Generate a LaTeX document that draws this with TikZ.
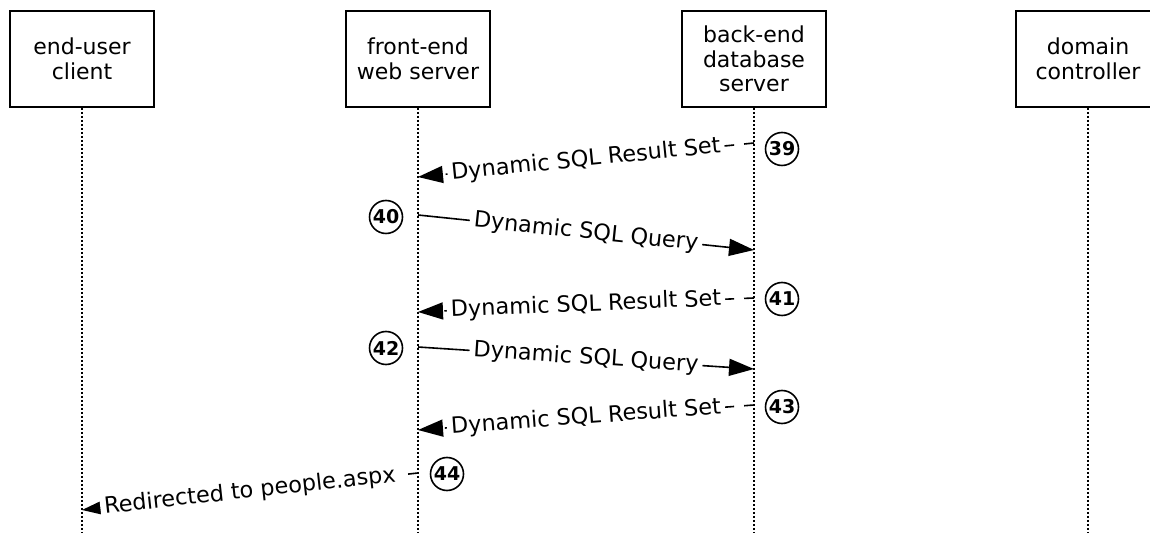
\documentclass[tikz,border=0pt]{standalone}
\usepackage{fontspec}
\setmainfont{DejaVu Sans}
\usetikzlibrary{arrows.meta,positioning}
\newcommand{\ClientX}{82}
\newcommand{\WebX}{418}
\newcommand{\DbX}{754}
\newcommand{\DcX}{1088}
\newcommand{\BoxMid}{59}
\newcommand{\LifeEnd}{533}

\begin{document}
\begin{tikzpicture}[x=0.5pt,y=-0.5pt,
  actor/.style={draw, line width=1pt, minimum width=72pt, minimum height=48pt, align=center, inner sep=0pt, font=\fontsize{11}{12.2}\selectfont},
  lifeline/.style={line width=0.8pt, dash pattern=on 0.8pt off 1.2pt},
  stepnum/.style={circle, draw, line width=0.8pt, minimum size=16.5pt, inner sep=0pt, font=\bfseries\fontsize{9.5}{10}\selectfont},
  msg/.style={-{Triangle[length=12.5pt,width=8.5pt]}, line width=0.8pt},
  reply/.style={msg, dash pattern=on 5pt off 5pt},
  msglabel/.style={sloped, fill=white, inner sep=2pt, font=\fontsize{11.2}{12}\selectfont}
]
\useasboundingbox (0,0) rectangle (1150,533);

% ----- Participants -----
\node[actor] (client) at (\ClientX,\BoxMid) {end-user\\client};
\node[actor] (web) at (\WebX,\BoxMid) {front-end\\web server};
\node[actor] (db) at (\DbX,\BoxMid) {back-end\\database\\server};
\node[actor] (dc) at (\DcX,\BoxMid) {domain\\controller};

% Lifelines
\coordinate (client-end) at (\ClientX,\LifeEnd);
\coordinate (web-end) at (\WebX,\LifeEnd);
\coordinate (db-end) at (\DbX,\LifeEnd);
\coordinate (dc-end) at (\DcX,\LifeEnd);
\foreach \who in {client,web,db,dc}
  \draw[lifeline] (\who.south) -- (\who-end);

% ----- Message end points -----
\coordinate (db39) at (\DbX,143);   \coordinate (web39) at (\WebX,177);
\coordinate (web40) at (\WebX,215); \coordinate (db40) at (\DbX,250);
\coordinate (db41) at (\DbX,298);   \coordinate (web41) at (\WebX,312);
\coordinate (web42) at (\WebX,347); \coordinate (db42) at (\DbX,369);
\coordinate (db43) at (\DbX,405);   \coordinate (web43) at (\WebX,430);
\coordinate (web44) at (\WebX,473); \coordinate (client44) at (\ClientX,510);

% ----- Messages -----
\draw[reply] (db39) -- node[msglabel] {Dynamic SQL Result Set} (web39);
\draw[msg] (web40) -- node[msglabel] {Dynamic SQL Query} (db40);
\draw[reply] (db41) -- node[msglabel] {Dynamic SQL Result Set} (web41);
\draw[msg] (web42) -- node[msglabel] {Dynamic SQL Query} (db42);
\draw[reply] (db43) -- node[msglabel] {Dynamic SQL Result Set} (web43);
\draw[reply] (web44) -- node[msglabel] {Redirected to people.aspx} (client44);

% Step numbers
\node[stepnum] (s39) at (782,149) {39};
\node[stepnum] (s40) at (386,217) {40};
\node[stepnum] (s41) at (782,299) {41};
\node[stepnum] (s42) at (386,348) {42};
\node[stepnum] (s43) at (782,407) {43};
\node[stepnum] (s44) at (447,474) {44};

\end{tikzpicture}
\end{document}
